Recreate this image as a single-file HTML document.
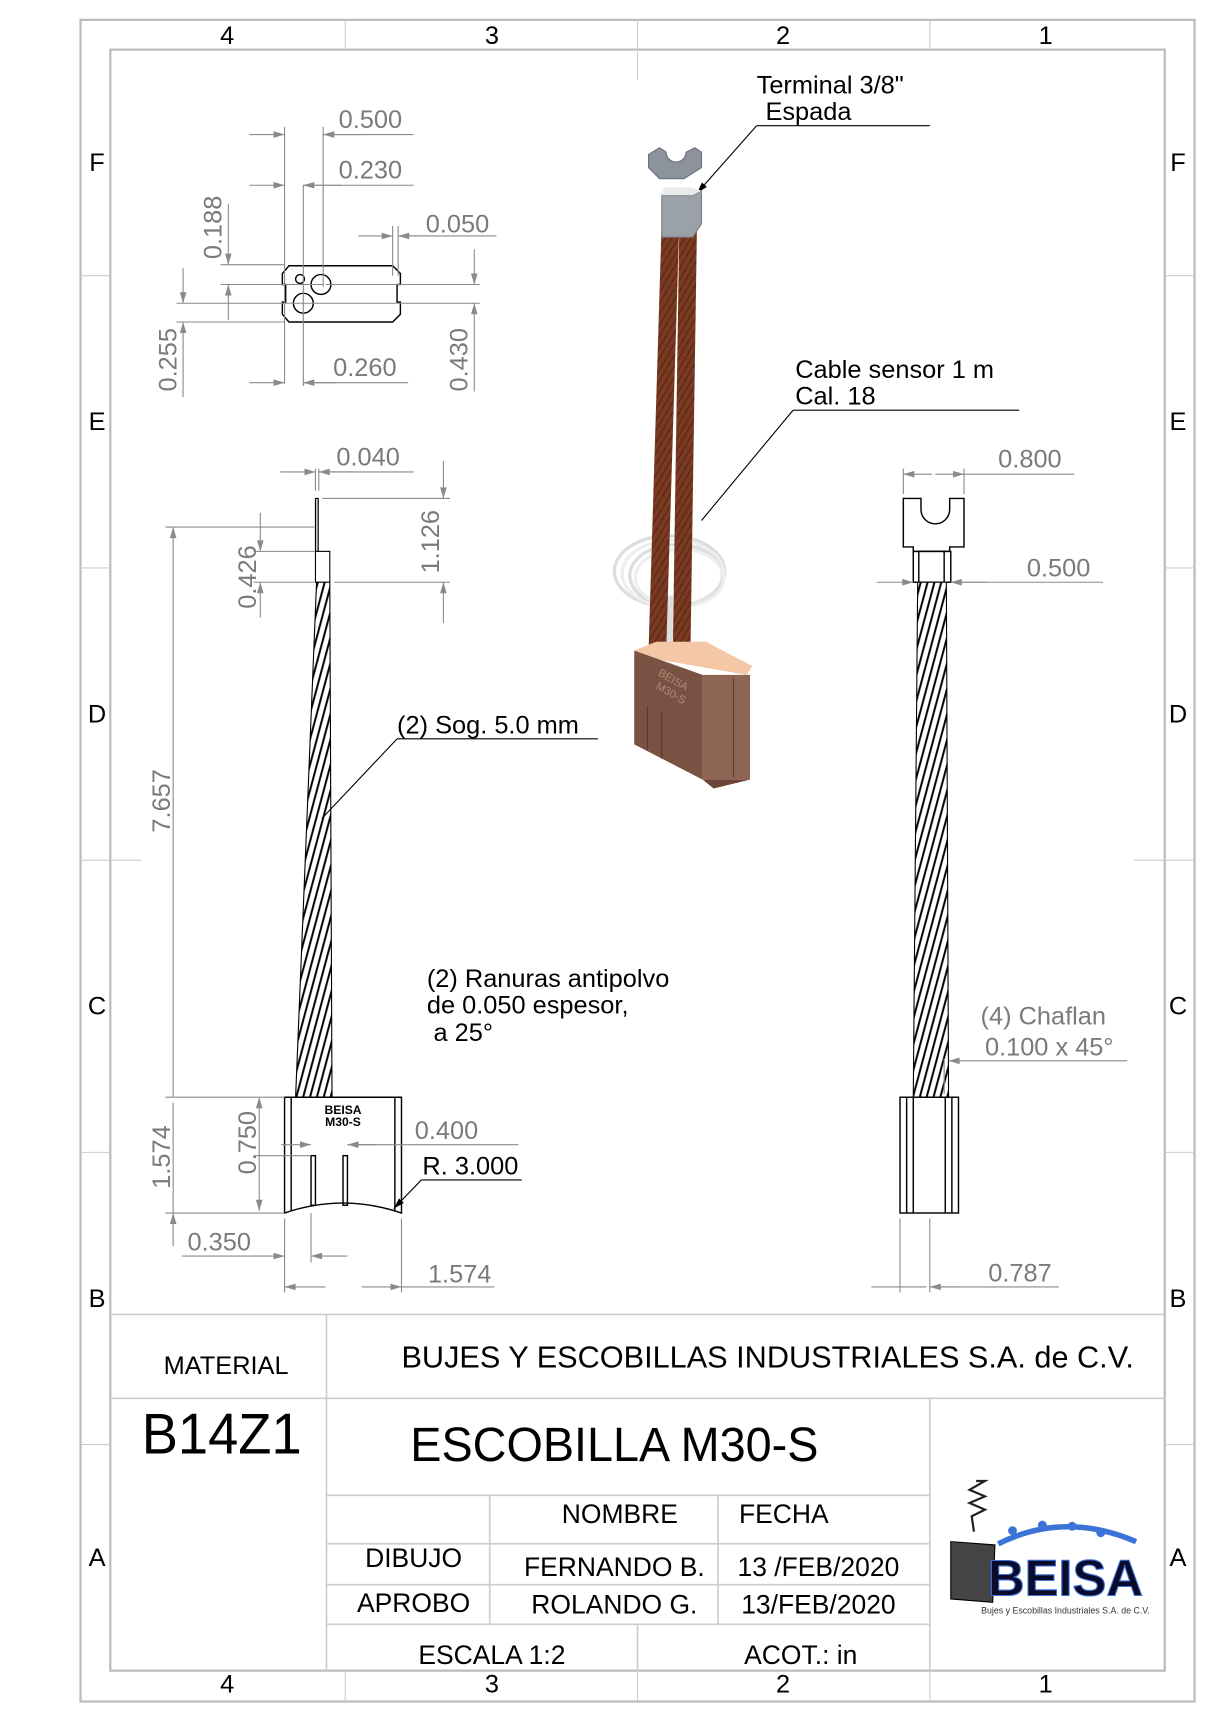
<!DOCTYPE html>
<html><head><meta charset="utf-8"><style>
html,body{margin:0;padding:0;background:#fff;}
svg{display:block;}
text{font-family:"Liberation Sans","DejaVu Sans",sans-serif;}
.d{fill:#7a7a7a;font-size:23px;}
.k{fill:#000;font-size:23px;}
.g{stroke:#8a8a8a;stroke-width:1;fill:none;}
.b{stroke:#000;stroke-width:1.3;fill:none;}
.f{stroke:#bbb;stroke-width:2;fill:none;}
</style></head><body>
<svg width="1221" height="1728" viewBox="0 0 1107 1567" preserveAspectRatio="none" xmlns="http://www.w3.org/2000/svg">
<defs>
<marker id="a" viewBox="0 0 10 6" refX="10" refY="3" markerWidth="20" markerHeight="6" markerUnits="userSpaceOnUse" orient="auto-start-reverse"><path d="M0 0L10 3L0 6z" fill="#8a8a8a"/></marker>
<marker id="ak" viewBox="0 0 10 6" refX="10" refY="3" markerWidth="16" markerHeight="6" markerUnits="userSpaceOnUse" orient="auto"><path d="M0 0L10 3L0 6z" fill="#000"/></marker>
<pattern id="h" width="6" height="10" patternUnits="userSpaceOnUse" patternTransform="rotate(15)"><rect width="6" height="10" fill="#fff"/><line x1="1" y1="0" x2="1" y2="10" stroke="#000" stroke-width="1.8"/></pattern>
<pattern id="c" width="5" height="8" patternUnits="userSpaceOnUse" patternTransform="rotate(30)"><rect width="5" height="8" fill="#7a3a22"/><line x1="0" y1="0" x2="0" y2="8" stroke="#4a2010" stroke-width="1.5"/></pattern>
</defs>
<!-- borders -->
<rect x="73" y="18" width="1010" height="1525" class="f"/>
<rect x="100" y="45" width="956" height="1470" class="f" stroke-width="2.5"/>
<g stroke="#ccc" stroke-width="1">
<line x1="313" y1="18" x2="313" y2="45"/><line x1="578" y1="18" x2="578" y2="72"/><line x1="843" y1="18" x2="843" y2="45"/>
<line x1="313" y1="1515" x2="313" y2="1543"/><line x1="578" y1="1515" x2="578" y2="1543"/><line x1="843" y1="1515" x2="843" y2="1543"/>
<line x1="73" y1="250" x2="100" y2="250"/><line x1="73" y1="515" x2="100" y2="515"/><line x1="73" y1="780" x2="128" y2="780"/><line x1="73" y1="1045" x2="100" y2="1045"/><line x1="73" y1="1310" x2="100" y2="1310"/>
<line x1="1056" y1="250" x2="1083" y2="250"/><line x1="1056" y1="515" x2="1083" y2="515"/><line x1="1028" y1="780" x2="1083" y2="780"/><line x1="1056" y1="1045" x2="1083" y2="1045"/><line x1="1056" y1="1310" x2="1083" y2="1310"/>
</g>
<g class="k" font-size="24" text-anchor="middle">
<text x="206" y="40">4</text><text x="446" y="40">3</text><text x="710" y="40">2</text><text x="948" y="40">1</text>
<text x="206" y="1535">4</text><text x="446" y="1535">3</text><text x="710" y="1535">2</text><text x="948" y="1535">1</text>
<text x="88" y="155">F</text><text x="88" y="390">E</text><text x="88" y="655">D</text><text x="88" y="920">C</text><text x="88" y="1185">B</text><text x="88" y="1420">A</text>
<text x="1068" y="155">F</text><text x="1068" y="390">E</text><text x="1068" y="655">D</text><text x="1068" y="920">C</text><text x="1068" y="1185">B</text><text x="1068" y="1420">A</text>
</g>
<!-- title block -->
<g stroke="#ccc" stroke-width="1.5">
<line x1="100" y1="1192" x2="1056" y2="1192"/><line x1="296" y1="1192" x2="296" y2="1515"/>
<line x1="100" y1="1268" x2="1056" y2="1268"/><line x1="843" y1="1268" x2="843" y2="1515"/>
<line x1="296" y1="1356" x2="843" y2="1356"/><line x1="444" y1="1356" x2="444" y2="1473"/><line x1="651" y1="1356" x2="651" y2="1473"/>
<line x1="296" y1="1400" x2="843" y2="1400"/><line x1="296" y1="1437" x2="843" y2="1437"/><line x1="296" y1="1473" x2="843" y2="1473"/><line x1="578" y1="1473" x2="578" y2="1515"/>
</g>
<g class="k">
<text x="205" y="1246" font-size="23" text-anchor="middle">MATERIAL</text>
<text x="696" y="1240" font-size="28" text-anchor="middle" textLength="664" lengthAdjust="spacingAndGlyphs">BUJES Y ESCOBILLAS INDUSTRIALES S.A. de C.V.</text>
<text x="201" y="1318" font-size="52" text-anchor="middle" textLength="145" lengthAdjust="spacingAndGlyphs">B14Z1</text>
<text x="557" y="1325" font-size="44" text-anchor="middle" textLength="370" lengthAdjust="spacingAndGlyphs">ESCOBILLA M30-S</text>
<text x="562" y="1381" font-size="24" text-anchor="middle">NOMBRE</text>
<text x="670" y="1381" font-size="24">FECHA</text>
<text x="375" y="1421" font-size="24" text-anchor="middle">DIBUJO</text>
<text x="375" y="1462" font-size="24" text-anchor="middle">APROBO</text>
<text x="557" y="1429" font-size="24" text-anchor="middle">FERNANDO B.</text>
<text x="557" y="1463" font-size="24" text-anchor="middle">ROLANDO G.</text>
<text x="742" y="1429" font-size="24" text-anchor="middle">13 /FEB/2020</text>
<text x="742" y="1463" font-size="24" text-anchor="middle">13/FEB/2020</text>
<text x="446" y="1509" font-size="24" text-anchor="middle">ESCALA 1:2</text>
<text x="726" y="1509" font-size="24" text-anchor="middle">ACOT.: in</text>
</g>
<!-- logo -->
<path d="M885 1343l8 0 -14 8 14 6 -14 6 14 6 -12 6 2 14" stroke="#222" stroke-width="2" fill="none"/>
<path d="M862 1398l40 3 -2 52 -38 -3z" fill="#444" stroke="#000"/>
<path d="M905 1400 Q965 1370 1030 1398" stroke="#3b73d9" stroke-width="5" fill="none"/>
<g fill="#3b73d9"><circle cx="918" cy="1388" r="4"/><circle cx="945" cy="1383" r="4"/><circle cx="972" cy="1384" r="4"/><circle cx="998" cy="1390" r="4"/></g>
<text x="966" y="1447" font-family="Liberation Serif,serif" font-weight="bold" font-size="46" text-anchor="middle" fill="#0a0a2a" stroke="#3b73d9" stroke-width="1">BEISA</text>
<text x="966" y="1463" font-size="8" text-anchor="middle" fill="#333">Bujes y Escobillas Industriales S.A. de C.V.</text>

<!-- TOP VIEW -->
<path d="M262 241h94l7 7v10h-3v16h3v11l-7 7h-94l-6-7v-11h3v-16h-3v-10z" class="b"/>
<circle cx="272" cy="253" r="4" class="b"/><circle cx="291" cy="258" r="9" class="b"/><circle cx="275" cy="275" r="9" class="b"/>
<g class="g">
<line x1="258" y1="115" x2="258" y2="348"/><line x1="293" y1="115" x2="293" y2="260"/><line x1="275" y1="168" x2="275" y2="350"/>
<line x1="226" y1="122" x2="258" y2="122" marker-end="url(#a)"/><line x1="330" y1="122" x2="293" y2="122" marker-end="url(#a)"/><line x1="293" y1="122" x2="375" y2="122"/>
<line x1="226" y1="168" x2="258" y2="168" marker-end="url(#a)"/><line x1="310" y1="168" x2="275" y2="168" marker-end="url(#a)"/><line x1="275" y1="168" x2="375" y2="168"/>
<line x1="356" y1="205" x2="356" y2="250"/><line x1="361" y1="205" x2="361" y2="250"/>
<line x1="325" y1="214" x2="356" y2="214" marker-end="url(#a)"/><line x1="395" y1="214" x2="361" y2="214" marker-end="url(#a)"/><line x1="361" y1="214" x2="450" y2="214"/>
<line x1="200" y1="240" x2="258" y2="240"/><line x1="200" y1="258" x2="293" y2="258"/>
<line x1="207" y1="185" x2="207" y2="240" marker-end="url(#a)"/><line x1="207" y1="290" x2="207" y2="258" marker-end="url(#a)"/>
<line x1="160" y1="275" x2="435" y2="275"/><line x1="160" y1="292" x2="258" y2="292"/>
<line x1="166" y1="243" x2="166" y2="275" marker-end="url(#a)"/><line x1="166" y1="360" x2="166" y2="292" marker-end="url(#a)"/>
<line x1="295" y1="258" x2="435" y2="258"/>
<line x1="430" y1="226" x2="430" y2="258" marker-end="url(#a)"/><line x1="430" y1="355" x2="430" y2="275" marker-end="url(#a)"/>
<line x1="226" y1="347" x2="258" y2="347" marker-end="url(#a)"/><line x1="305" y1="347" x2="275" y2="347" marker-end="url(#a)"/><line x1="275" y1="347" x2="370" y2="347"/>
</g>
<g class="d">
<text x="307" y="116">0.500</text><text x="307" y="162">0.230</text><text x="386" y="211">0.050</text><text x="302" y="341">0.260</text>
<text transform="translate(201 235) rotate(-90)">0.188</text>
<text transform="translate(160 355) rotate(-90)">0.255</text>
<text transform="translate(424 355) rotate(-90)">0.430</text>
</g>

<!-- SIDE VIEW left -->
<rect x="286" y="452" width="2.5" height="48" fill="#ccc" stroke="#000"/>
<rect x="286" y="500" width="13" height="28" fill="#fff" stroke="#000"/>
<path d="M287 528h12l2 467h-33z" fill="url(#h)" stroke="#000"/>
<path d="M258 995h106v105q-53-18-106 0z" class="b" fill="#fff"/>
<line x1="264" y1="995" x2="264" y2="1098" class="b"/><line x1="358" y1="995" x2="358" y2="1098" class="b"/>
<rect x="282" y="1048" width="4" height="45" class="b"/><rect x="311" y="1048" width="4" height="45" class="b"/>
<text x="311" y="1010" font-size="11" font-weight="bold" text-anchor="middle" fill="#000">BEISA</text>
<text x="311" y="1021" font-size="11" font-weight="bold" text-anchor="middle" fill="#000">M30-S</text>
<g class="g">
<line x1="286" y1="425" x2="286" y2="445"/><line x1="289" y1="425" x2="289" y2="445"/>
<line x1="254" y1="428" x2="286" y2="428" marker-end="url(#a)"/><line x1="320" y1="428" x2="289" y2="428" marker-end="url(#a)"/><line x1="289" y1="428" x2="375" y2="428"/>
<line x1="292" y1="452" x2="408" y2="452"/><line x1="303" y1="528" x2="408" y2="528"/>
<line x1="402" y1="418" x2="402" y2="452" marker-end="url(#a)"/><line x1="402" y1="565" x2="402" y2="528" marker-end="url(#a)"/>
<line x1="150" y1="478" x2="285" y2="478"/><line x1="230" y1="500" x2="285" y2="500"/><line x1="230" y1="528" x2="285" y2="528"/>
<line x1="236" y1="465" x2="236" y2="500" marker-end="url(#a)"/><line x1="236" y1="560" x2="236" y2="528" marker-end="url(#a)"/>
<line x1="157" y1="995" x2="157" y2="478" marker-end="url(#a)"/>
<line x1="150" y1="995" x2="258" y2="995"/><line x1="150" y1="1100" x2="258" y2="1100"/>
<line x1="157" y1="1000" x2="157" y2="1100"/><line x1="157" y1="1130" x2="157" y2="1100" marker-end="url(#a)"/>
<line x1="235" y1="1050" x2="235" y2="995" marker-end="url(#a)"/><line x1="235" y1="1050" x2="235" y2="1098" marker-end="url(#a)"/>
<line x1="230" y1="1048" x2="282" y2="1048"/>
<line x1="255" y1="1038" x2="282" y2="1038" marker-end="url(#a)"/><line x1="340" y1="1038" x2="315" y2="1038" marker-end="url(#a)"/><line x1="315" y1="1038" x2="470" y2="1038"/>
<line x1="258" y1="1105" x2="258" y2="1172"/><line x1="364" y1="1105" x2="364" y2="1172"/><line x1="282" y1="1100" x2="282" y2="1145"/>
<line x1="165" y1="1139" x2="258" y2="1139" marker-end="url(#a)"/><line x1="315" y1="1139" x2="282" y2="1139" marker-end="url(#a)"/>
<line x1="295" y1="1167" x2="258" y2="1167" marker-end="url(#a)"/><line x1="328" y1="1167" x2="364" y2="1167" marker-end="url(#a)"/><line x1="364" y1="1167" x2="448" y2="1167"/>
</g>
<g class="d">
<text x="305" y="422">0.040</text>
<text transform="translate(398 520) rotate(-90)">1.126</text>
<text transform="translate(232 552) rotate(-90)">0.426</text>
<text transform="translate(154 755) rotate(-90)">7.657</text>
<text transform="translate(154 1078) rotate(-90)">1.574</text>
<text transform="translate(232 1065) rotate(-90)">0.750</text>
<text x="376" y="1033">0.400</text>
<text x="170" y="1134">0.350</text>
<text x="388" y="1163">1.574</text>
</g>
<g class="k">
<text x="383" y="1065">R. 3.000</text>
<line x1="382" y1="1070" x2="473" y2="1070" stroke="#000"/>
<line x1="382" y1="1070" x2="357" y2="1096" stroke="#000" marker-end="url(#ak)"/>
<text x="360" y="665">(2) Sog. 5.0 mm</text>
<line x1="360" y1="670" x2="542" y2="670" stroke="#000"/>
<line x1="360" y1="670" x2="292" y2="742" stroke="#000"/>
<text x="387" y="895">(2) Ranuras antipolvo</text>
<text x="387" y="919">de 0.050 espesor,</text>
<text x="393" y="944">a 25°</text>
</g>

<!-- RIGHT VIEW -->
<path d="M819 452h16v10a13 13 0 0 0 26 0v-10h13v44h-13v4h-33v-4h-9z" class="b"/>
<rect x="828" y="500" width="34" height="28" class="b"/>
<line x1="833" y1="500" x2="833" y2="528" class="b"/><line x1="856" y1="500" x2="856" y2="528" class="b"/>
<path d="M832 528h26l2 467h-32z" fill="url(#h)" stroke="#000"/>
<rect x="816" y="995" width="53" height="105" class="b"/>
<line x1="822" y1="995" x2="822" y2="1100" class="b"/><line x1="828" y1="995" x2="828" y2="1100" class="b"/>
<line x1="857" y1="995" x2="857" y2="1100" class="b"/><line x1="863" y1="995" x2="863" y2="1100" class="b"/>
<g class="g">
<line x1="819" y1="425" x2="819" y2="448"/><line x1="874" y1="425" x2="874" y2="448"/>
<line x1="845" y1="430" x2="819" y2="430" marker-end="url(#a)"/><line x1="848" y1="430" x2="874" y2="430" marker-end="url(#a)"/><line x1="874" y1="430" x2="974" y2="430"/>
<line x1="795" y1="528" x2="828" y2="528" marker-end="url(#a)"/><line x1="895" y1="528" x2="862" y2="528" marker-end="url(#a)"/><line x1="862" y1="528" x2="1000" y2="528"/>
<line x1="856" y1="960" x2="856" y2="992"/>
<line x1="893" y1="962" x2="860" y2="962" marker-end="url(#a)"/><line x1="893" y1="962" x2="1022" y2="962"/>
<line x1="816" y1="1105" x2="816" y2="1172"/><line x1="843" y1="1105" x2="843" y2="1172"/>
<line x1="790" y1="1167" x2="816" y2="1167"/><line x1="816" y1="1167" x2="840" y2="1167"/>
<line x1="870" y1="1167" x2="843" y2="1167" marker-end="url(#a)"/><line x1="843" y1="1167" x2="960" y2="1167"/>
</g>
<g class="d">
<text x="905" y="424">0.800</text><text x="931" y="523">0.500</text>
<text x="889" y="929">(4) Chaflan</text><text x="893" y="957">0.100 x 45°</text>
<text x="896" y="1162">0.787</text>
</g>

<!-- 3D VIEW -->
<g class="k">
<text x="686" y="85">Terminal 3/8"</text><text x="694" y="109">Espada</text>
<line x1="686" y1="114" x2="843" y2="114" stroke="#000"/>
<line x1="686" y1="114" x2="632" y2="175" stroke="#000" marker-end="url(#ak)"/>
<text x="721" y="343">Cable sensor 1 m</text><text x="721" y="367">Cal. 18</text>
<line x1="719" y1="372" x2="924" y2="372" stroke="#000"/>
<line x1="719" y1="372" x2="636" y2="472" stroke="#000"/>
</g>
<g fill="none" stroke="#ddd" stroke-width="3">
<ellipse cx="607" cy="518" rx="50" ry="32"/><ellipse cx="610" cy="520" rx="46" ry="30" stroke="#eee"/><ellipse cx="613" cy="522" rx="42" ry="28"/><ellipse cx="616" cy="524" rx="40" ry="26" stroke="#eee"/>
</g>
<rect x="604" y="540" width="6" height="50" fill="#ddd"/>
<path d="M600 198l16 0 -12 392 -16 0z" fill="url(#c)"/>
<path d="M616 198l16 0 -6 392 -16 0z" fill="url(#c)"/>
<path d="M588 152l0 -12 10 -6 6 4 a8 8 0 0 0 18 0 l8 -4 6 4 0 14 -16 10 -22 0z" fill="#8c939c" stroke="#6a7078"/>
<path d="M600 177l28 0 8 -4 0 30 -8 12 -28 0z" fill="#9aa1a9" stroke="#7a8088"/>
<path d="M600 177l28 0 8 -4 -8 -3 -26 0z" fill="#e8eaec"/>
<path d="M575 590l20 -8 45 0 42 22 -5 8 -92 -16z" fill="#f4c7a6"/>
<path d="M575 590l0 85 62 32 0 -95z" fill="#7a5243"/>
<path d="M637 612l43 0 0 95 -43 0z" fill="#8e6452"/>
<path d="M637 707l10 8 33 -8z" fill="#6a4536"/>
<g stroke="#5a3a2c" stroke-width="1"><line x1="587" y1="640" x2="587" y2="680"/><line x1="600" y1="645" x2="600" y2="688"/><line x1="665" y1="615" x2="665" y2="705"/></g>
<text x="596" y="612" font-size="10" fill="#b08a78" transform="rotate(30 596 612)">BEISA</text>
<text x="594" y="624" font-size="10" fill="#b08a78" transform="rotate(30 594 624)">M30-S</text>
</svg>
</body></html>
